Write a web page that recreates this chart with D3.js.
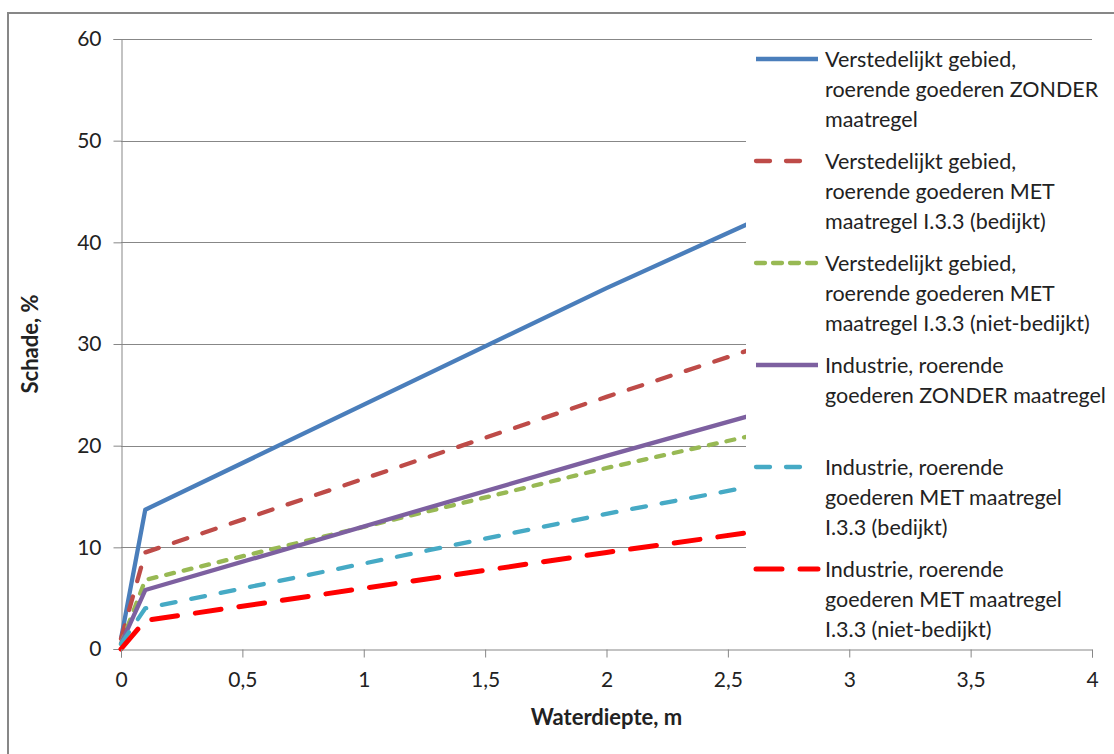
<!DOCTYPE html>
<html>
<head>
<meta charset="utf-8">
<script src="https://cdn.jsdelivr.net/npm/d3@7"></script>
<style>
  html, body { margin: 0; padding: 0; background: #fff; }
  svg { display: block; }
  text { font-family: Lato, "Open Sans", sans-serif; fill: #222; }
</style>
</head>
<body>
<svg id="chart" width="1114" height="754"></svg>
<script>
// ---- data ----
const depths = [0, 0.1, 2, 2.6];
const seriesNames = [
  ["Verstedelijkt gebied,", "roerende goederen ZONDER", "maatregel"],
  ["Verstedelijkt gebied,", "roerende goederen MET", "maatregel I.3.3 (bedijkt)"],
  ["Verstedelijkt gebied,", "roerende goederen MET", "maatregel I.3.3 (niet-bedijkt)"],
  ["Industrie, roerende", "goederen ZONDER maatregel"],
  ["Industrie, roerende", "goederen MET maatregel", "I.3.3 (bedijkt)"],
  ["Industrie, roerende", "goederen MET maatregel", "I.3.3 (niet-bedijkt)"]
];
const vStadZonder   = [1, 13.7, 35.5, 42];
const vStadMetBed   = [1, 9.5, 24.8, 29.5];
const vStadMetNiet  = [0.5, 6.8, 17.8, 21];
const vIndZonder    = [0.5, 5.8, 19, 23];
const vIndMetBed    = [0.5, 4.0, 13.3, 16];
const vIndMetNiet   = [0, 2.8, 9.5, 11.5];
const seriesValues = [vStadZonder, vStadMetBed, vStadMetNiet, vIndZonder, vIndMetBed, vIndMetNiet];
const colors = ["#4A7EBB", "#BE4B48", "#98B954", "#7D60A0", "#46AAC5", "#FF0000"];
const dashes = [null, "14,16", "8,10", null, "14,16", "26,18"];
const legendDashes = [null, "14,16", "9,8", null, "14,16", "26,18"];
const xTicks = [0, 0.5, 1, 1.5, 2, 2.5, 3, 3.5, 4];
const yTicks = [0, 10, 20, 30, 40, 50, 60];
const xTitle = "Waterdiepte, m";
const yTitle = "Schade, %";

// ---- layout ----
const svg = d3.select("#chart");
const plot = { left: 121, right: 1092, top: 39, bottom: 649 };
const x = d3.scaleLinear().domain([0, 4]).range([plot.left, plot.right]);
const y = d3.scaleLinear().domain([0, 60]).range([plot.bottom, plot.top]);
const fmt = d => String(d).replace(".", ",");
const gray = "#878787";

// outer frame
svg.append("rect").attr("x", 8).attr("y", 13).attr("width", 1200).attr("height", 800)
  .attr("fill", "none").attr("stroke", gray).attr("stroke-width", 2);

// gridlines
svg.append("g").selectAll("line").data(yTicks.filter(d => d > 0)).join("line")
  .attr("x1", plot.left).attr("x2", plot.right)
  .attr("y1", d => Math.round(y(d)) + 0.5).attr("y2", d => Math.round(y(d)) + 0.5)
  .attr("stroke", gray).attr("stroke-width", 1);

// y axis
const yAxis = svg.append("g").attr("transform", `translate(${plot.left + 0.5},0)`)
  .call(d3.axisLeft(y).tickValues(yTicks).tickSize(8).tickPadding(12).tickFormat(d => d));
yAxis.select(".domain").attr("stroke", gray);
yAxis.selectAll(".tick line").attr("stroke", gray);
yAxis.selectAll(".tick text").attr("font-size", 21).attr("font-family", "Lato, sans-serif").attr("fill", "#222");

// lines
const line = d3.line().x((d, i) => x(depths[i])).y(d => y(d));
svg.append("g").selectAll("path").data(seriesValues).join("path")
  .attr("d", d => line(d))
  .attr("fill", "none")
  .attr("stroke", (d, i) => colors[i])
  .attr("stroke-width", (d, i) => i === 5 ? 5 : 4.3)
  .attr("stroke-linecap", (d, i) => dashes[i] ? "round" : "butt")
  .attr("stroke-linejoin", "round")
  .attr("stroke-dasharray", (d, i) => dashes[i]);

// legend background (covers gridlines)
const lg = { x: 746, y: 40 };
svg.append("rect").attr("x", lg.x).attr("y", lg.y).attr("width", 400).attr("height", 603).attr("fill", "#fff");

// x axis
const xAxis = svg.append("g").attr("transform", `translate(0,${plot.bottom + 0.5})`)
  .call(d3.axisBottom(x).tickValues(xTicks).tickSize(8).tickPadding(15).tickFormat(fmt));
xAxis.select(".domain").attr("stroke", gray);
xAxis.selectAll(".tick line").attr("stroke", gray);
xAxis.selectAll(".tick text").attr("font-size", 21).attr("font-family", "Lato, sans-serif").attr("fill", "#222");

// legend
const legend = svg.append("g");
seriesNames.forEach((lines, i) => {
  const cy = 59 + i * 102;
  const endX = (i === 1 || i === 4) ? 804 : 818;
  legend.append("line")
    .attr("x1", 756).attr("x2", endX).attr("y1", cy).attr("y2", cy)
    .attr("stroke", colors[i]).attr("stroke-width", i === 5 ? 5 : 4.3)
    .attr("stroke-linecap", legendDashes[i] ? "round" : "butt")
    .attr("stroke-dasharray", legendDashes[i]);
  lines.forEach((t, j) => {
    legend.append("text").attr("x", 825).attr("y", cy + j * 30 + 7.5)
      .attr("font-size", 21.5).text(t);
  });
});

// axis titles
svg.append("text").attr("x", (plot.left + plot.right) / 2).attr("y", 725)
  .attr("text-anchor", "middle").attr("font-size", 22).attr("font-weight", "bold").text(xTitle);
svg.append("text").attr("transform", `translate(38,${(plot.top + plot.bottom) / 2}) rotate(-90)`)
  .attr("text-anchor", "middle").attr("font-size", 22).attr("font-weight", "bold").text(yTitle);
</script>
</body>
</html>
